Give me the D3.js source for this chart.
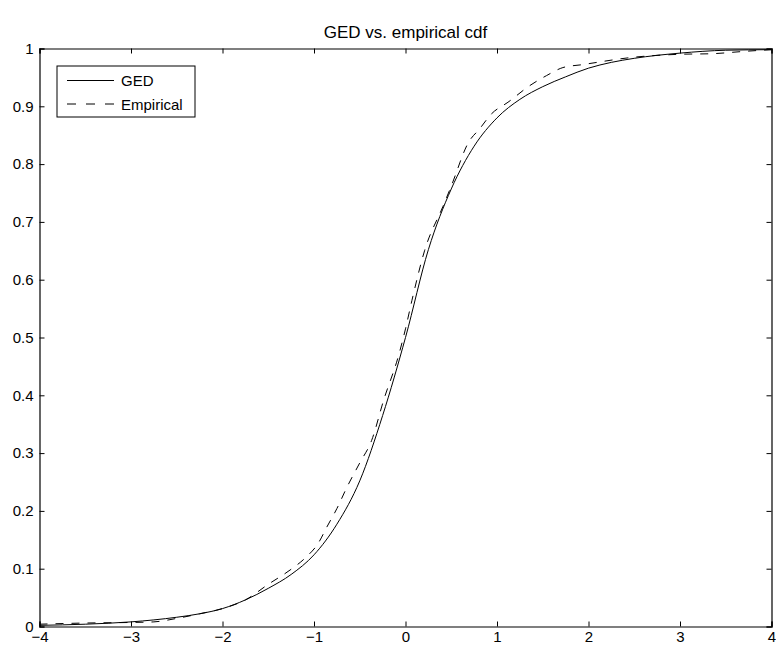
<!DOCTYPE html>
<html>
<head>
<meta charset="utf-8">
<script src="https://cdn.jsdelivr.net/npm/d3@7"></script>
<style>
  body { margin: 0; background: #fff; }
  text { font-family: "Liberation Sans", Arial, sans-serif; }
</style>
</head>
<body>
<svg id="chart"></svg>
<script>
// GED (solid) curve
const gedX = [-4, -3.5, -3, -2.5, -2.25, -2, -1.75, -1.5, -1.25, -1, -0.75, -0.5, -0.25, 0,
              0.25, 0.5, 0.75, 1, 1.25, 1.5, 1.75, 2, 2.25, 2.5, 3, 3.5, 4];
const gedY = [0.002, 0.004, 0.008, 0.016, 0.022, 0.031, 0.046, 0.066, 0.090, 0.124, 0.177, 0.252, 0.365, 0.50,
              0.652, 0.757, 0.831, 0.880, 0.912, 0.934, 0.951, 0.966, 0.976, 0.983, 0.992, 0.997, 0.998];

// empirical cdf (dashed)
const empX = [-4, -3.5, -3, -2.75, -2.5, -2.25, -2, -1.75, -1.5, -1.25, -1.1, -0.95, -0.86, -0.75, -0.64, -0.5,
              -0.37, -0.24, -0.07, 0, 0.07, 0.21, 0.41, 0.5, 0.69, 0.81, 0.94, 1.12, 1.36, 1.54, 1.72, 1.93,
              2.5, 3, 3.35, 3.7, 4];
const empY = [0.004, 0.006, 0.007, 0.008, 0.014, 0.022, 0.031, 0.046, 0.073, 0.099, 0.118, 0.145, 0.172, 0.204, 0.241, 0.283,
              0.322, 0.391, 0.472, 0.515, 0.564, 0.651, 0.727, 0.762, 0.838, 0.861, 0.887, 0.907, 0.936, 0.953, 0.967, 0.972,
              0.985, 0.990, 0.991, 0.995, 0.998];

const xTicks = [-4, -3, -2, -1, 0, 1, 2, 3, 4];
const yTicks = [0, 0.1, 0.2, 0.3, 0.4, 0.5, 0.6, 0.7, 0.8, 0.9, 1];
const seriesNames = ["GED", "Empirical"];

const width = 776, height = 648;
const margin = { left: 39.5, right: 4.5, top: 48.5, bottom: 21.5 };
const innerW = width - margin.left - margin.right;
const innerH = height - margin.top - margin.bottom;

const svg = d3.select("#chart")
    .attr("width", width)
    .attr("height", height)
    .attr("viewBox", [0, 0, width, height]);

const x_scale = d3.scaleLinear().domain([-4, 4]).range([0, innerW]);
const y_scale = d3.scaleLinear().domain([0, 1]).range([innerH, 0]);

const mainGroup = svg.append("g").attr("transform", `translate(${margin.left}, ${margin.top})`);

// curves
const line = (xs, ys) => d3.line()
    .curve(d3.curveMonotoneX)
    .x((d, i) => x_scale(xs[i]))
    .y((d, i) => y_scale(ys[i]))(xs);

mainGroup.append("path")
    .attr("d", line(gedX, gedY))
    .attr("fill", "none").attr("stroke", "black").attr("stroke-width", 1);

mainGroup.append("path")
    .attr("d", line(empX, empY))
    .attr("fill", "none").attr("stroke", "black").attr("stroke-width", 1)
    .attr("stroke-dasharray", "8,8");

// axes, ticks pointing inward
const gX = mainGroup.append("g")
    .attr("transform", `translate(0, ${innerH})`)
    .call(d3.axisBottom(x_scale).tickValues(xTicks).tickSize(-5).tickPadding(5));
const gXTop = mainGroup.append("g")
    .call(d3.axisTop(x_scale).tickValues(xTicks).tickSize(-5).tickFormat(""));
const gY = mainGroup.append("g")
    .call(d3.axisLeft(y_scale).tickValues(yTicks).tickSize(-5).tickPadding(6).tickFormat(d3.format("~g")));
const gYRight = mainGroup.append("g")
    .attr("transform", `translate(${innerW}, 0)`)
    .call(d3.axisRight(y_scale).tickValues(yTicks).tickSize(-5).tickFormat(""));

[gX, gXTop, gY, gYRight].forEach(g => {
    g.attr("font-size", 15).attr("font-family", "'Liberation Sans', Arial, sans-serif");
    g.select(".domain").attr("stroke", "black").attr("stroke-width", 1.2);
    g.selectAll(".tick line").attr("stroke", "black");
    g.selectAll("text").attr("fill", "black");
});

// title
svg.append("text")
    .attr("x", margin.left + innerW / 2)
    .attr("y", 38)
    .attr("text-anchor", "middle")
    .style("font-size", "17px")
    .text("GED vs. empirical cdf");

// legend
const legend = mainGroup.append("g").attr("transform", "translate(17.5, 17.5)");
legend.append("rect")
    .attr("x", 0).attr("y", 0).attr("width", 138).attr("height", 51)
    .attr("fill", "white").attr("stroke", "black").attr("stroke-width", 1);

seriesNames.forEach((name, i) => {
    const item = legend.append("g").attr("transform", `translate(0, ${14.5 + i * 23.5})`);
    item.append("line")
        .attr("x1", 10).attr("x2", 57).attr("y1", 0).attr("y2", 0)
        .attr("stroke", "black").attr("stroke-width", 1)
        .attr("stroke-dasharray", i === 1 ? "9,10" : null);
    item.append("text")
        .attr("x", 64).attr("y", 5.5)
        .style("font-size", "15px")
        .text(name);
});
</script>
</body>
</html>
